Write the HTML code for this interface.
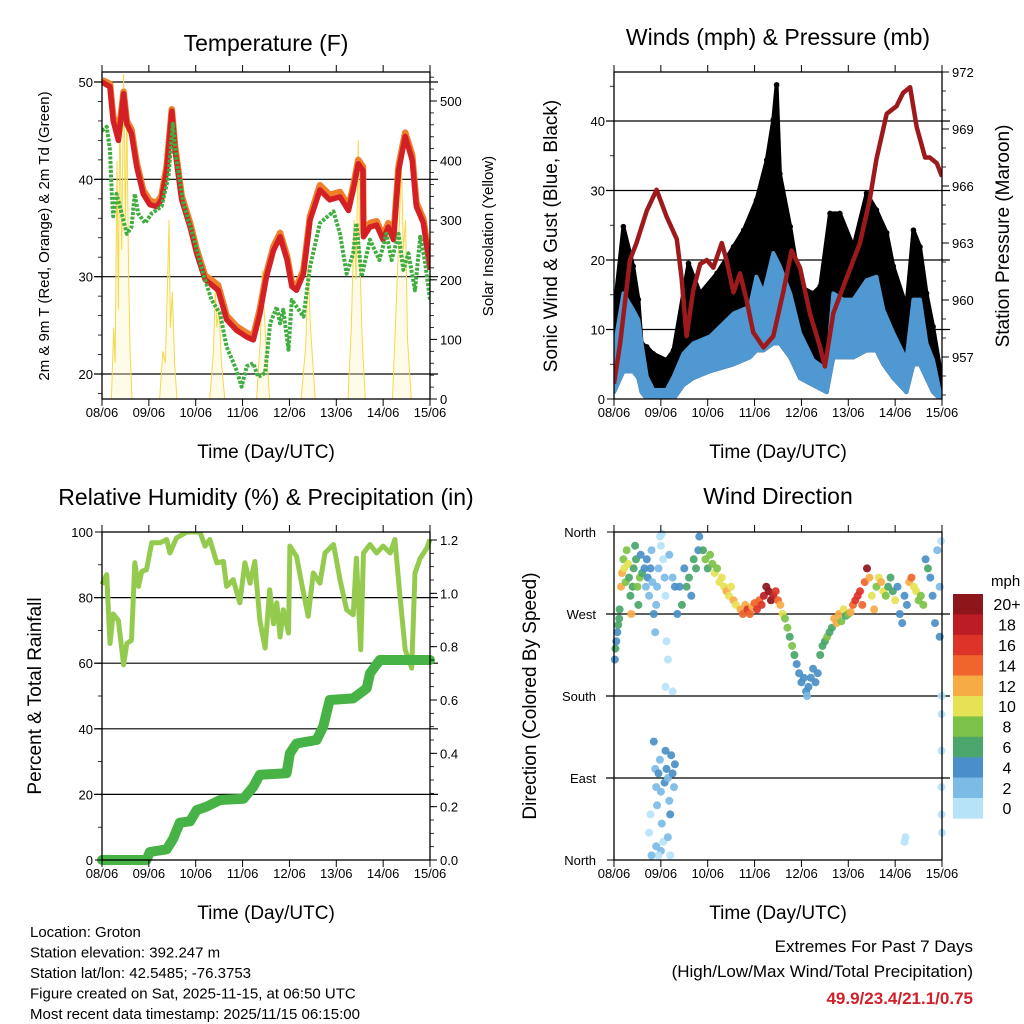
<!DOCTYPE html>
<html><head><meta charset="utf-8">
<style>
html,body{margin:0;padding:0;background:#fff;}
svg{display:block;font-family:"Liberation Sans",Arial,sans-serif;}
</style></head>
<body>
<svg id="fig" width="1024" height="1024" viewBox="0 0 1024 1024" xmlns="http://www.w3.org/2000/svg">
<rect width="1024" height="1024" fill="#fff"/>
<g id="layer-marks"></g>
<g id="layer-axes"></g>
<g id="footer" font-size="15" fill="#000">
  <text x="30" y="937">Location: Groton</text>
  <text x="30" y="957.5">Station elevation: 392.247 m</text>
  <text x="30" y="978">Station lat/lon: 42.5485; -76.3753</text>
  <text x="30" y="998.5">Figure created on Sat, 2025-11-15, at 06:50 UTC</text>
  <text x="30" y="1019">Most recent data timestamp: 2025/11/15 06:15:00</text>
  <text x="973" y="952" font-size="17" text-anchor="end">Extremes For Past 7 Days</text>
  <text x="973" y="977" font-size="17" text-anchor="end">(High/Low/Max Wind/Total Precipitation)</text>
  <text x="973" y="1004" font-size="17" font-weight="bold" fill="#d0202a" text-anchor="end">49.9/23.4/21.1/0.75</text>
</g>
</svg>
<script>
// ---------- DATA ----------
const dayLabels = ["08/06","09/06","10/06","11/06","12/06","13/06","14/06","15/06"];
// Temperature panel
const tempTicks = [20,30,40,50];
const solarTicks = [0,100,200,300,400,500];
const redTimes = [0,0.17,0.24,0.35,0.42,0.46,0.53,0.63,0.74,0.88,1.02,1.17,1.27,1.38,1.49,1.56,1.7,1.88,2.02,2.2,2.38,2.48,2.66,2.87,3.09,3.23,3.37,3.51,3.66,3.8,3.95,4.05,4.15,4.3,4.44,4.65,4.86,5.08,5.26,5.36,5.47,5.57,5.58,5.72,5.86,6.0,6.11,6.22,6.33,6.47,6.62,6.71,6.86,7.0];
const redTemp = [50,49.5,46,44,47,48.8,45.7,44.7,41.3,38.5,37.4,37.2,37.9,41,47,43,37.9,35.1,32.4,29.7,29,28.6,25.6,24.5,23.8,23.5,26.2,30,32.7,34.1,31.7,29,28.6,30.3,35.8,38.9,37.9,38.2,36.8,38.9,41.6,40.9,34.1,35.1,35.3,33.8,35.1,33.8,40.9,44.4,42,37.2,35.5,30.7];
const orangeTemp = [50.2,49.8,46.5,44.6,47.3,49,46,45.1,41.7,38.9,37.8,37.6,38.3,41.4,47.2,43.4,38.3,35.5,32.8,30.1,29.5,29.1,26,24.9,24.2,23.9,26.7,30.4,33.1,34.5,32.1,29.4,29,30.7,36.2,39.4,38.4,38.7,37.2,39.3,42,41.3,34.5,35.5,35.7,34.2,35.5,34.2,41.4,44.8,42.5,37.6,35.9,31.1];
const dewTimes = [0,0.1,0.17,0.21,0.24,0.31,0.42,0.53,0.63,0.7,0.77,0.92,1.06,1.27,1.42,1.51,1.59,1.74,1.95,2.16,2.34,2.52,2.66,2.87,2.98,3.09,3.23,3.33,3.48,3.59,3.73,3.8,3.87,3.98,4.05,4.3,4.44,4.65,4.94,5.08,5.22,5.36,5.43,5.54,5.72,5.92,6.07,6.18,6.33,6.43,6.54,6.68,6.79,6.89,7.0];
const dewTemp = [45,45.4,43,38.5,36.2,38.5,36.5,34.4,35.1,38.5,36.5,35.5,36.5,37.2,40.3,45.7,42,37.5,34.1,30.3,27.6,26.2,22.8,20.4,18.7,20.8,21.1,19.7,20.1,25.2,26.9,25.2,26.6,22.5,27.6,25.9,31,35.5,36.7,34.4,30.3,32.4,35.5,30,33.8,31.7,34.4,31.7,34.4,30.7,32.4,28.6,34.1,31.7,27.6];
const solarTimes = [0.2,0.25,0.28,0.32,0.35,0.38,0.42,0.46,0.5,0.53,0.57,0.6,0.64, 1.23,1.3,1.35,1.4,1.43,1.46,1.5,1.55,1.6, 2.3,2.38,2.42,2.45,2.5,2.55,2.62, 3.3,3.38,3.42,3.46,3.5,3.58, 4.25,4.35,4.4,4.45,4.55, 5.25,5.32,5.38,5.42,5.47,5.5,5.55,5.62, 6.2,6.3,6.35,6.39,6.43,6.48,6.52,6.6];
const solarVals = [0,120,60,400,150,500,250,545,300,480,200,80,0, 0,80,60,200,300,120,180,60,0, 0,80,188,120,150,60,0, 0,100,216,150,90,0, 0,90,222,120,0, 0,120,300,200,434,250,100,0, 0,200,300,400,250,300,100,0];
// Winds & pressure panel
const windTicks = [0,10,20,30,40];
const presTicks = [957,960,963,966,969,972];
const blueTimes = [0,0.2,0.41,0.52,0.59,0.7,0.84,1.12,1.27,1.48,1.69,2.05,2.55,2.9,3.04,3.19,3.4,3.54,3.76,3.97,4.25,4.54,4.68,4.89,5.11,5.39,5.6,5.75,5.96,6.24,6.39,6.53,6.67,6.81,6.96];
const windHigh = [7,15.2,12.8,11.4,8.0,3.2,1.3,1.3,3.2,6.5,8.0,9.0,12.3,13.3,17.6,15.2,21,19.1,15.2,9.5,5.6,4.2,15.2,14.3,14.3,17.1,17.6,12.8,9.5,5.6,14.3,14.3,8.0,5.6,0.8];
const windLow = [1,4,4,3,1,0,0,0,0,2,3,4,5,6,7,7,8,8,6,3,2,1,6,6,6,7,7,5,3,1,5,5,3,1,0];
const gustTimes = [0,0.2,0.41,0.52,0.59,0.7,0.84,1.12,1.27,1.48,1.59,1.84,2.2,2.55,2.77,3.04,3.26,3.4,3.47,3.54,3.76,3.97,4.25,4.4,4.61,4.82,5.11,5.39,5.6,5.82,5.96,6.24,6.39,6.53,6.67,6.81,7.0];
const gustVals = [12.3,24.8,19.1,14.3,8.0,7.5,6.5,5.6,7.0,15.2,19.5,15.2,18.1,21.9,24.3,28.6,34.4,40.2,45.2,32.4,24.8,16.2,15.2,16.2,26.7,26.7,21.9,29.6,27.2,23.9,19.1,13.3,24.3,21.9,15.2,10.4,2.8];
const presTimes = [0,0.13,0.34,0.48,0.7,0.91,1.12,1.34,1.44,1.55,1.69,1.84,1.98,2.12,2.3,2.4,2.55,2.69,2.83,2.97,3.19,3.4,3.61,3.79,3.97,4.18,4.4,4.5,4.68,4.97,5.25,5.46,5.6,5.82,6.03,6.17,6.32,6.46,6.64,6.74,6.89,7.0];
const presVals = [955.6,957.7,962.1,963,964.7,965.8,964.4,963.2,961.2,958.1,960.5,961.9,962.1,961.7,963,962.1,960.4,961.4,960,958.3,957.5,958.1,960.4,962.6,961.7,959.3,957.5,956.5,959.3,961.2,963,965.3,967.4,969.8,970.2,970.9,971.2,969.1,967.5,967.5,967.2,966.5];
// Humidity & precipitation panel
const rhTicks = [0,20,40,60,80,100];
const rainTicks = [0,0.2,0.4,0.6,0.8,1.0,1.2];
const rhTimes = [0,0.10,0.17,0.24,0.35,0.46,0.53,0.63,0.70,0.78,0.85,0.95,1.06,1.24,1.38,1.45,1.59,1.81,2.09,2.20,2.30,2.45,2.59,2.66,2.80,2.94,3.05,3.16,3.26,3.30,3.37,3.48,3.58,3.66,3.73,3.80,3.87,3.98,4.01,4.15,4.30,4.40,4.51,4.65,4.76,4.94,5.08,5.22,5.36,5.43,5.52,5.58,5.72,5.86,6.00,6.15,6.25,6.36,6.47,6.61,6.68,6.79,6.93,7.0];
const rhVals = [84,87,66,75,73,59.5,66,67,90.6,83.4,88,88.5,96.7,96.7,97.7,93.6,98.2,100,100,95.7,97.7,90.6,91,83.4,85.5,78.4,90.6,84.4,91,84.4,73,64.6,82.4,72,78.4,68,76.3,69.2,95.7,92.6,81.4,74.3,87.5,84.4,93.6,96.2,85.5,76.3,74.8,92,64.1,93.6,96.2,93.6,95.7,93.6,97.7,80.4,64.1,58.5,87.5,92,95,97.7];
const rainTimes = [0,0.95,1.02,1.38,1.52,1.66,1.88,2.02,2.23,2.52,3.02,3.23,3.37,3.94,4.01,4.15,4.58,4.72,4.86,5.36,5.65,5.72,5.93,7.0];
const rainVals = [0,0,0.03,0.04,0.08,0.14,0.145,0.187,0.2,0.225,0.23,0.275,0.32,0.325,0.4,0.437,0.45,0.5,0.6,0.606,0.644,0.7,0.75,0.75];
// Wind direction panel
const dirTicks = [0,90,180,270,360];
const dirLabels = ["North","East","South","West","North"];
const speedBins = ["0","2","4","6","8","10","12","14","16","18","20+"];
const binColors = ["#b7e3f8","#7cbbe6","#4a8fc7","#4aa66a","#7cc247","#e6e255","#f7ab45","#f0652c","#dd3328","#bc1c24","#8e1519"];
const dirTimes = [0.02,0.03,0.05,0.07,0.09,0.11,0.12, 0.15,0.17,0.2,0.22,0.25,0.27,0.3,0.32,0.35,0.37,0.4,0.42,0.45,0.47,0.5,0.52,0.55,0.57,0.6,
 0.65,0.68,0.7,0.72,0.75,0.78,0.8,0.82,0.85,0.88,0.9,0.92,0.95,0.98,1.0,1.02,1.05,1.08,1.1,1.12,1.15,1.18,1.25,1.3,1.1,1.25,
 0.85,0.88,0.9,0.92,0.95,0.98,1.0,1.02,1.05,1.08,1.1,1.12,1.15,1.18,1.2,1.22,1.25,1.28,1.3,1.0,0.95,0.78,0.75,0.8,1.2,1.15,0.9,
 1.35,1.4,1.45,1.5,1.55,1.6,1.65,1.7,1.75,1.8,1.82,
 1.9,1.95,2.0,2.05,2.1,2.15,2.2,2.25,2.3,2.35,2.4,2.45,2.5,2.55,2.6,
 2.7,2.75,2.8,2.85,2.9,2.95,3.0,3.05,3.1,3.15,3.2,3.25,3.3,3.35,3.4,3.45,3.5,3.55,3.6,
 3.65,3.7,3.75,3.8,3.85,3.9, 3.95,4.0,4.05,4.1,4.12,4.15,4.2,4.25,4.3,4.35,
 4.4,4.45,4.5,4.55,4.6,4.65, 4.7,4.75,4.8,4.85,4.9,4.95,5.0,5.05,5.1,5.15,
 5.2,5.25,5.3,5.35,5.4,5.45,5.5,5.55,5.6, 5.65,5.7,5.75,5.8,5.85,5.9,5.95,6.0,
 6.05,6.1,6.15,6.2,6.25, 6.3,6.35,6.4,6.45,6.5,6.55,6.6,
 6.65,6.7,6.75,6.8,6.85,6.9,6.95,6.98,6.99,6.99,6.99,6.99,6.99,7.0,6.2,6.22,6.95];
const dirVals = [220,232,240,250,258,265,275, 300,315,330,320,305,340,325,310,290,270,300,320,345,330,300,280,310,335,315,
 320,300,330,310,290,320,340,305,270,250,280,300,320,355,345,358,330,310,290,240,220,335,310,300,190,185,
 130,100,80,60,95,110,75,40,20,85,120,100,90,65,50,115,95,80,105,10,5,50,30,5,5,25,15,
 270,300,280,320,300,310,290,330,320,340,355,
 340,330,320,335,325,315,320,305,310,300,295,290,300,285,280,
 275,270,280,275,270,278,282,275,285,280,290,300,295,285,290,295,285,280,270,
 265,255,245,235,225,215, 205,195,200,185,180,190,200,210,195,205,
 225,235,240,245,250,255, 265,260,270,262,275,268,270,272,280,285,
 290,295,280,305,320,310,290,275,300, 310,305,295,290,300,310,295,285,
 300,270,260,290,280, 305,310,300,295,285,290,280,
 330,320,310,290,260,340,300,350,180,160,120,80,50,30,20,25,245];
const dirSpeed = [5,6,5,4,6,7,6, 12,13,8,10,9,8,10,7,6,12,7,6,7,6,9,7,8,5,6,
 4,3,4,4,3,4,2,3,4,3,2,3,3,1,1,1,1,2,1,1,1,2,3,4,1,1,
 4,3,2,3,4,2,3,2,1,4,4,5,3,2,4,5,4,3,4,2,1,1,1,2,1,2,2,
 5,4,6,5,7,6,5,7,6,4,4,
 6,8,7,8,9,10,8,10,11,10,12,11,10,12,10,
 12,14,12,16,14,12,15,16,14,17,18,20,21,20,18,16,14,12,11,
 9,8,6,8,6,5, 4,4,5,4,3,4,4,5,4,4,
 6,7,6,8,6,7, 12,13,12,8,10,7,8,12,14,16,
 17,16,15,14,20,12,10,13,8, 10,12,11,9,7,7,6,10,
 4,4,4,4,4, 12,14,11,10,8,9,8,
 4,6,5,4,4,3,2,1,1,1,1,1,1,1,1,1,4];

// ---------- HELPERS ----------
const NS = "http://www.w3.org/2000/svg";
const marks = document.getElementById("layer-marks");
const axes = document.getElementById("layer-axes");
function mk(tag, attrs, parent){
  const e = document.createElementNS(NS, tag);
  for (const k in attrs) e.setAttribute(k, attrs[k]);
  parent.appendChild(e);
  return e;
}
function lin(d0,d1,r0,r1){ return v => r0 + (v-d0)/(d1-d0)*(r1-r0); }
function pathFrom(xs, ys, sx, sy){
  let d = "";
  for (let i=0;i<xs.length;i++) d += (i?"L":"M") + sx(xs[i]).toFixed(1) + "," + sy(ys[i]).toFixed(1);
  return d;
}

function drawFrame(p, name){
  const g = mk("g", {}, axes);
  
  
  const fr = mk("rect", {x:p.x0, y:p.y0, width:p.x1-p.x0, height:p.y1-p.y0, fill:"none", stroke:"#000", "stroke-width":1.3}, g);
  
  
  const sx = lin(0,7,p.x0,p.x1);
  for (let i=0;i<dayLabels.length;i++){
    const x = sx(i);
    mk("line", {x1:x, x2:x, y1:p.y1, y2:p.y1+7, stroke:"#000","stroke-width":1}, g);
    mk("line", {x1:x, x2:x, y1:p.y0, y2:p.y0-7, stroke:"#000","stroke-width":1}, g);
    const t = mk("text", {x:x, y:p.y1+18, "font-size":13, "text-anchor":"middle"}, g);
    t.textContent = dayLabels[i];
    
    
  }
  const xt = mk("text", {x:(p.x0+p.x1)/2, y:p.y1+59, "font-size":19, "text-anchor":"middle"}, g);
  xt.textContent = "Time (Day/UTC)";
  
  
  return g;
}
function gridLines(p, sy, vals, g){
  for (const v of vals){
    const y = sy(v);
    const l = mk("line", {x1:p.x0-8, x2:p.x1+8, y1:y, y2:y, stroke:"#000","stroke-width":1.2}, g);
    
    
  }
}
function yTicks(g, x, sy, vals, labels, side, minorStep, dmin, dmax){
  const dir = side==="left" ? -1 : 1;
  for (let i=0;i<vals.length;i++){
    const y = sy(vals[i]);
    mk("line", {x1:x, x2:x+dir*7, y1:y, y2:y, stroke:"#000","stroke-width":1}, g);
    const t = mk("text", {x:x+dir*(side==="left"?9:10), y:y+5, "font-size":13, "text-anchor":side==="left"?"end":"start"}, g);
    t.textContent = labels[i];
    
    
  }
  if (minorStep){
    for (let v=Math.ceil(dmin/minorStep)*minorStep; v<=dmax+1e-9; v+=minorStep){
      const y = sy(v);
      mk("line", {x1:x, x2:x+dir*4, y1:y, y2:y, stroke:"#000","stroke-width":0.8}, g);
    }
  }
}
function title(text, x, y, name, size){
  const t = mk("text", {x:x, y:y, "font-size":size||23, "text-anchor":"middle"}, axes);
  t.textContent = text;
  
  
}
function yTitle(text, x, y, size, name){
  const t = mk("text", {x:0, y:0, "font-size":size, "text-anchor":"middle", transform:`translate(${x},${y}) rotate(-90)`}, axes);
  t.textContent = text;
  
  
}

// ---------- PANEL 1: TEMPERATURE ----------
(function(){
  const p = {x0:102, x1:430, y0:72, y1:399};
  const sx = lin(0,7,p.x0,p.x1);
  const sy = lin(20,50,374,82);
  const ss = lin(0,500,399,101);
  const g = mk("g", {}, marks);
  
  
  gridLines(p, sy, tempTicks, g);
  const cp = mk("clipPath", {id:"c1"}, g); mk("rect", {x:p.x0,y:p.y0,width:p.x1-p.x0,height:p.y1-p.y0}, cp);
  const inner = mk("g", {"clip-path":"url(#c1)"}, g);
  const sol = mk("path", {d:pathFrom(solarTimes, solarVals, sx, ss), fill:"#fdf3c0", "fill-opacity":0.35, stroke:"#f6d84a", "stroke-width":1}, inner);
  
  
  const o = mk("path", {d:pathFrom(redTimes, orangeTemp, sx, sy), fill:"none", stroke:"#f07f2a", "stroke-width":6.5, "stroke-linejoin":"round"}, inner);
  
  
  const r = mk("path", {d:pathFrom(redTimes, redTemp, sx, sy), fill:"none", stroke:"#d42025", "stroke-width":5.5, "stroke-linejoin":"round"}, inner);
  
  
  const dw = mk("path", {d:pathFrom(dewTimes, dewTemp, sx, sy), fill:"none", stroke:"#3fae3f", "stroke-width":4, "stroke-dasharray":"3 1.5", "stroke-linejoin":"round"}, inner);
  
  
  const a = drawFrame(p, "temperature");
  yTicks(a, p.x0, sy, tempTicks, tempTicks.map(String), "left", 2, 18, 50);
  yTicks(a, p.x1, ss, solarTicks, solarTicks.map(String), "right", 20, 0, 540);
  title("Temperature (F)", 266, 51, "temperature-title");
  yTitle("2m & 9m T (Red, Orange) & 2m Td (Green)", 49, 236, 15, "temperature-y-title");
  yTitle("Solar Insolation (Yellow)", 493, 236, 15, "solar-y-title");
})();

// ---------- PANEL 2: WINDS & PRESSURE ----------
(function(){
  const p = {x0:614, x1:942, y0:72, y1:399};
  const sx = lin(0,7,p.x0,p.x1);
  const sy = lin(0,40,399,121);
  const sp = lin(957,972,357,72);
  const g = mk("g", {}, marks);
  
  
  gridLines(p, sy, [10,20,30,40], g);
  const cp = mk("clipPath", {id:"c2"}, g); mk("rect", {x:p.x0,y:p.y0,width:p.x1-p.x0,height:p.y1-p.y0}, cp);
  const inner = mk("g", {"clip-path":"url(#c2)"}, g);
  let d = pathFrom(gustTimes, gustVals, sx, sy);
  for (let i=blueTimes.length-1;i>=0;i--) d += "L" + sx(blueTimes[i]).toFixed(1) + "," + sy(windLow[i]).toFixed(1);
  const gc = mk("path", {d:d+"Z", fill:"#000", stroke:"#000", "stroke-width":4, "stroke-linejoin":"round"}, inner);
  
  
  for (let i=0;i<gustTimes.length;i++){
    const c = mk("circle", {cx:sx(gustTimes[i]), cy:sy(gustVals[i]), r:2.8, fill:"#000"}, inner);
    
    
  }
  let bd = pathFrom(blueTimes, windHigh, sx, sy);
  for (let i=blueTimes.length-1;i>=0;i--) bd += "L" + sx(blueTimes[i]).toFixed(1) + "," + sy(windLow[i]).toFixed(1);
  const bl = mk("path", {d:bd+"Z", fill:"#4f98d2", stroke:"#4f98d2", "stroke-width":4, "stroke-linejoin":"round"}, inner);
  
  
  const pr = mk("path", {d:pathFrom(presTimes, presVals, sx, sp), fill:"none", stroke:"#9c1a1c", "stroke-width":4.5, "stroke-linejoin":"round"}, inner);
  
  
  const a = drawFrame(p, "winds");
  yTicks(a, p.x0, sy, windTicks, windTicks.map(String), "left", 5, 0, 46);
  yTicks(a, p.x1, sp, presTicks, presTicks.map(String), "right", 1, 955, 972);
  title("Winds (mph) & Pressure (mb)", 778, 45, "winds-title");
  yTitle("Sonic Wind & Gust (Blue, Black)", 557, 236, 19, "wind-y-title");
  yTitle("Station Pressure (Maroon)", 1009, 236, 19, "pressure-y-title");
})();

// ---------- PANEL 3: HUMIDITY & PRECIP ----------
(function(){
  const p = {x0:102, x1:430, y0:532, y1:860};
  const sx = lin(0,7,p.x0,p.x1);
  const sy = lin(0,100,860,532);
  const sr = lin(0,1.2,860,540);
  const g = mk("g", {}, marks);
  
  
  gridLines(p, sy, [20,40,60,80], g);
  const cp = mk("clipPath", {id:"c3"}, g); mk("rect", {x:p.x0-8,y:p.y0,width:p.x1-p.x0+16,height:p.y1-p.y0+8}, cp);
  const inner = mk("g", {"clip-path":"url(#c3)"}, g);
  const rh = mk("path", {d:pathFrom(rhTimes, rhVals, sx, sy), fill:"none", stroke:"#94cb4f", "stroke-width":5, "stroke-linejoin":"round"}, inner);
  
  
  const rn = mk("path", {d:pathFrom(rainTimes, rainVals, sx, sr), fill:"none", stroke:"#47b246", "stroke-width":10, "stroke-linejoin":"round", "stroke-linecap":"round"}, inner);
  
  
  const a = drawFrame(p, "humidity");
  yTicks(a, p.x0, sy, rhTicks, rhTicks.map(String), "left", 10, 0, 100);
  yTicks(a, p.x1, sr, rainTicks, rainTicks.map(v=>v.toFixed(1)), "right", 0.05, 0, 1.2);
  title("Relative Humidity (%) & Precipitation (in)", 266, 505, "humidity-title");
  yTitle("Percent & Total Rainfall", 41, 696, 19, "humidity-y-title");
})();

// ---------- PANEL 4: WIND DIRECTION ----------
(function(){
  const p = {x0:614, x1:942, y0:532, y1:860};
  const sx = lin(0,7,p.x0,p.x1);
  const sy = lin(0,360,860,532);
  const g = mk("g", {}, marks);
  
  
  gridLines(p, sy, [90,180,270], g);
  for (let i=0;i<dirTimes.length;i++){
    const bin = Math.min(10, Math.floor(dirSpeed[i]/2));
    const c = mk("circle", {cx:sx(dirTimes[i]).toFixed(1), cy:sy(dirVals[i]).toFixed(1), r:4, fill:binColors[bin], "fill-opacity":0.92}, g);
    
    
  }
  const a = drawFrame(p, "direction");
  for (let i=0;i<dirTicks.length;i++){
    const y = sy(dirTicks[i]);
    mk("line", {x1:p.x0, x2:p.x0-7, y1:y, y2:y, stroke:"#000","stroke-width":1}, a);
    const t = mk("text", {x:p.x0-18, y:y+5, "font-size":13, "text-anchor":"end"}, a);
    t.textContent = dirLabels[i];
    
    
  }
  title("Wind Direction", 778, 504, "direction-title");
  yTitle("Direction (Colored By Speed)", 536, 696, 19, "direction-y-title");
  const cb = mk("g", {}, axes);
  
  
  const top = 594, h = 20.4;
  for (let i=0;i<speedBins.length;i++){
    const k = speedBins.length-1-i;
    const r = mk("rect", {x:953, y:top+i*h, width:30, height:h+0.3, fill:binColors[k]}, cb);
    
    
    const t = mk("text", {x:1007, y:top+i*h+h/2+6, "font-size":16, "text-anchor":"middle"}, cb);
    t.textContent = speedBins[k];
    
    
  }
  const u = mk("text", {x:991, y:586, "font-size":15}, cb);
  u.textContent = "mph";
  
  
})();
</script>
</body></html>
